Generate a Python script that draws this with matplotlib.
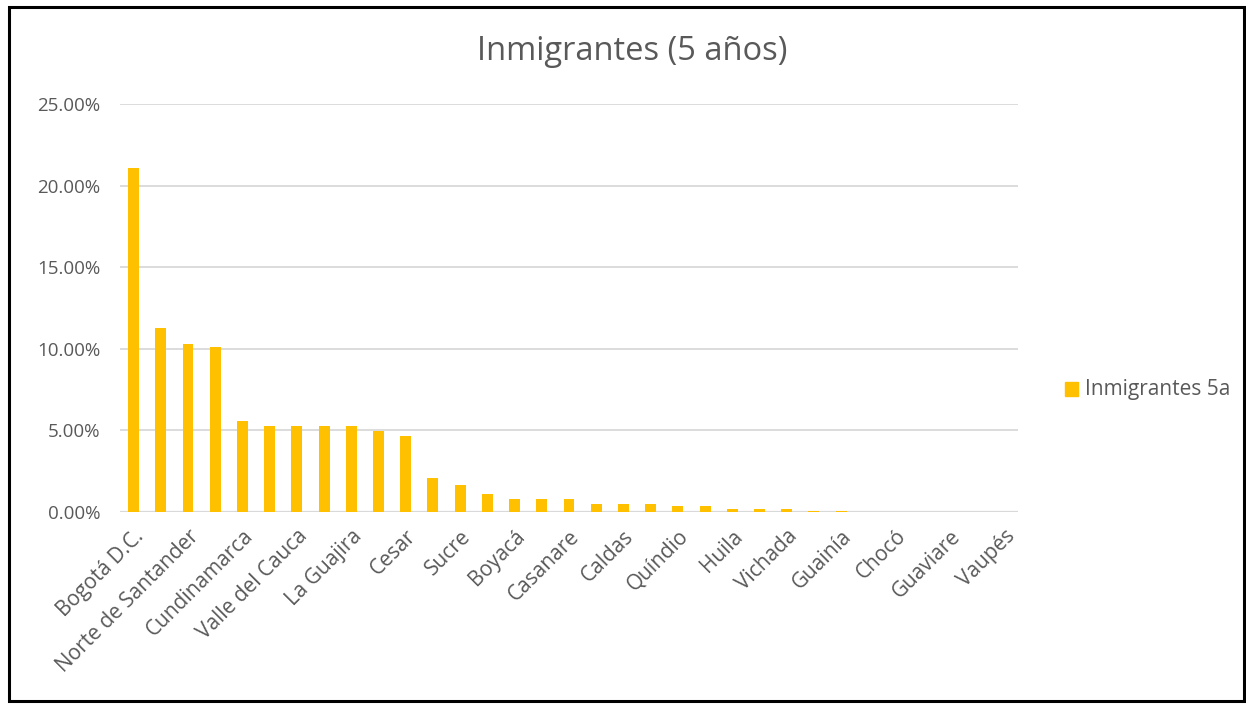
import matplotlib
matplotlib.use("Agg")
import matplotlib.pyplot as plt
from matplotlib.patches import Rectangle
import numpy as np

# Departamentos ordenados por participación de inmigrantes (últimos 5 años)
departamentos = [
    "Bogotá D.C.", "Antioquia", "Norte de Santander", "Atlántico",
    "Cundinamarca", "Santander", "Valle del Cauca", "Magdalena",
    "La Guajira", "Bolívar", "Cesar", "Arauca", "Sucre", "Córdoba",
    "Boyacá", "Meta", "Casanare", "Risaralda", "Caldas", "Tolima",
    "Quíndio", "Nariño", "Huila", "Cauca", "Vichada", "Caquetá",
    "Guainía", "Putumayo", "Chocó", "Amazonas", "Guaviare", "San Andrés",
    "Vaupés",
]
inmigrantes_5a = [
    21.09, 11.30, 10.31, 10.08, 5.57, 5.28, 5.28, 5.28, 5.28, 4.99,
    4.68, 2.09, 1.66, 1.09, 0.78, 0.78, 0.78, 0.47, 0.47, 0.47,
    0.36, 0.36, 0.20, 0.20, 0.20, 0.08, 0.08, 0.0, 0.0, 0.0,
    0.0, 0.0, 0.0,
]
yticks = [0, 5, 10, 15, 20, 25]
ytick_labels = ["0.00%", "5.00%", "10.00%", "15.00%", "20.00%", "25.00%"]

W, H = 1246, 706
fig = plt.figure(figsize=(W / 100, H / 100), dpi=100)
fig.patch.set_facecolor("white")

# Marco negro alrededor del gráfico
frame = Rectangle((8.5 / W, 1 - 701 / H), (1244 - 8.5) / W, (701 - 7) / H,
                  transform=fig.transFigure, fill=False, edgecolor="black",
                  linewidth=2.2, zorder=10)
fig.add_artist(frame)

left, right = 120 / W, 1018 / W
bottom, top = 1 - 512 / H, 1 - 104 / H
ax = fig.add_axes([left, bottom, right - left, top - bottom])

text_color = "#595959"
font = ["Open Sans", "DejaVu Sans"]

x = np.arange(len(departamentos))
ax.bar(x, inmigrantes_5a, width=0.4, color="#FFC000", zorder=3,
       label="Inmigrantes 5a")

ax.set_xlim(-0.5, len(departamentos) - 0.5)
ax.set_ylim(0, 25)
ax.set_yticks(yticks, labels=ytick_labels)
ax.set_xticks(x[::2], labels=departamentos[::2])

for lbl in ax.get_xticklabels():
    lbl.set_rotation(45)
    lbl.set_ha("right")
    lbl.set_rotation_mode("anchor")

ax.tick_params(axis="both", length=0, colors=text_color)
ax.tick_params(axis="y", pad=14, labelsize=13.5)
ax.tick_params(axis="x", pad=10, labelsize=15)
for lbl in ax.get_xticklabels() + ax.get_yticklabels():
    lbl.set_family(font)

ax.grid(axis="y", color="#D9D9D9", linewidth=1.3, zorder=0)
for s in ax.spines.values():
    s.set_visible(False)
ax.axhline(0, color="#D9D9D9", linewidth=1.6, zorder=2)

fig.text(632 / W, 1 - 52 / H, "Inmigrantes (5 años)", ha="center",
         va="center", fontsize=23.5, color=text_color, family=font)

# Leyenda
fig.add_artist(Rectangle((1065 / W, 1 - 396 / H), 13 / W, 14 / H,
                         transform=fig.transFigure, color="#FFC000"))
fig.text(1085 / W, 1 - 389 / H, "Inmigrantes 5a", ha="left", va="center",
         fontsize=15, color=text_color, family=font)

fig.savefig("out.png", dpi=100)
